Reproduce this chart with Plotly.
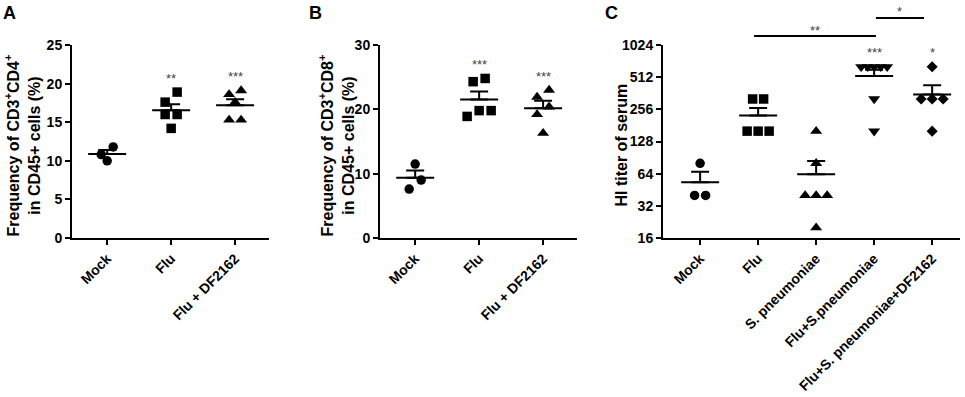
import math
import numpy as np
import plotly.graph_objects as go

W, H = 965, 397

# ---------------- data ----------------
# Panel A: CD3+CD4+ frequency (%)
a_groups = ["Mock", "Flu", "Flu + DF2162"]
a_mock = [11.8, 10.0, 10.8]
a_flu = [18.9, 17.6, 16.0, 16.0, 14.2]
a_df = [19.1, 18.6, 17.6, 15.3, 15.3]
a_stars = ["", "**", "***"]
a_ticks = [0, 5, 10, 15, 20, 25]

# Panel B: CD3+CD8+ frequency (%)
b_groups = ["Mock", "Flu", "Flu + DF2162"]
b_mock = [11.5, 9.0, 7.6]
b_flu = [24.8, 24.3, 19.8, 18.9, 19.8]
b_df = [23.0, 21.9, 20.4, 19.2, 16.3]
b_stars = ["", "***", "***"]
b_ticks = [0, 10, 20, 30]

# Panel C: HI titer of serum
c_groups = ["Mock", "Flu", "S. pneumoniae", "Flu+S.pneumoniae", "Flu+S. pneumoniae+DF2162"]
c_mock = [80, 40, 40]
c_flu = [320, 320, 160, 160, 160]
c_spn = [160, 80, 40, 40, 40, 20]
c_flu_spn = [640, 640, 640, 640, 640, 320, 160]
c_flu_spn_df = [640, 320, 320, 320, 160]
c_stars = ["", "", "", "***", "*"]
c_ticks = [16, 32, 64, 128, 256, 512, 1024]
c_comparisons = [(1, 3, "**"), (3, 4, "*")]

# ---------------- styling / geometry ----------------
FONT = "Liberation Sans"
BLACK = "#000000"
STAR = "#444444"

panels = [
    dict(key="A", groups=a_groups, data=[a_mock, a_flu, a_df], stars=a_stars, ticks=a_ticks,
         symbols=["circle", "square", "triangle-up"], px=(72, 269), py=(45, 238),
         xr=[-0.55, 2.53], yr=[0, 25], log=False,
         title="Frequency of CD3<sup>+</sup>CD4<sup>+</sup><br>in CD45+ cells (%)", title_x=23,
         letter_x=9),
    dict(key="B", groups=b_groups, data=[b_mock, b_flu, b_df], stars=b_stars, ticks=b_ticks,
         symbols=["circle", "square", "triangle-up"], px=(380, 577), py=(45, 238),
         xr=[-0.55, 2.53], yr=[0, 30], log=False,
         title="Frequency of CD3<sup>+</sup>CD8<sup>+</sup><br>in CD45+ cells (%)", title_x=337,
         letter_x=315),
    dict(key="C", groups=c_groups, data=[c_mock, c_flu, c_spn, c_flu_spn, c_flu_spn_df],
         stars=c_stars, ticks=c_ticks,
         symbols=["circle", "square", "triangle-up", "triangle-down", "diamond"],
         px=(663, 960), py=(45, 238), xr=[-0.64, 4.48], yr=[16, 1024], log=True,
         title="HI titer of serum", title_x=621, letter_x=611),
]

fig = go.Figure()


def swarm(vals, ypix, spacing, maxw, thresh):
    """Return horizontal pixel offsets for a simple row-based beeswarm."""
    n = len(vals)
    order = sorted(range(n), key=lambda i: -vals[i])
    rows = []
    for i in order:
        if rows and abs(ypix(vals[i]) - ypix(vals[rows[-1][0]])) < thresh:
            rows[-1].append(i)
        else:
            rows.append([i])
    offs = [0.0] * n
    for row in rows:
        k = len(row)
        if k == 1:
            continue
        sp = min(spacing, maxw / (k - 1))
        row_sorted = sorted(row, key=lambda i: vals[i])
        for j, i in enumerate(row_sorted):
            offs[i] = (j - (k - 1) / 2) * sp
    return offs


annotations = []
shapes = []

for pi, p in enumerate(panels):
    n = pi + 1
    xa = "x" if n == 1 else f"x{n}"
    ya = "y" if n == 1 else f"y{n}"
    x0p, x1p = p["px"]
    y0p, y1p = p["py"]
    xr, yr = p["xr"], p["yr"]
    ppc = (x1p - x0p) / (xr[1] - xr[0])  # px per category unit

    if p["log"]:
        lo, hi = math.log10(yr[0]), math.log10(yr[1])
        ypix = lambda v, lo=lo, hi=hi: (y1p - y0p) * (math.log10(v) - lo) / (hi - lo)
    else:
        ypix = lambda v, yr=yr: (y1p - y0p) * (v - yr[0]) / (yr[1] - yr[0])

    spacing = 12 if not p["log"] else 11
    for gi, vals in enumerate(p["data"]):
        offs = swarm(vals, ypix, spacing, 26, 11)
        xs = [gi + o / ppc for o in offs]
        sym = p["symbols"][gi]
        size = 9.5 + (1 if "triangle" in sym else 0) - (1 if sym == "diamond" else 0)
        fig.add_trace(go.Scatter(
            x=xs, y=vals, mode="markers", xaxis=xa, yaxis=ya, showlegend=False,
            marker=dict(symbol=sym, size=size, color=BLACK, line=dict(width=0)),
            cliponaxis=False, hoverinfo="skip"))
        mean = float(np.mean(vals))
        sem = float(np.std(vals, ddof=1) / np.sqrt(len(vals)))
        hw = 19 / ppc
        fig.add_trace(go.Scatter(
            x=[gi - hw, gi + hw], y=[mean, mean], mode="lines", xaxis=xa, yaxis=ya,
            line=dict(color=BLACK, width=2), showlegend=False, hoverinfo="skip"))
        fig.add_trace(go.Scatter(
            x=[gi], y=[mean], mode="markers", xaxis=xa, yaxis=ya, showlegend=False,
            marker=dict(size=1, opacity=0), hoverinfo="skip",
            error_y=dict(type="data", symmetric=False, array=[sem], arrayminus=[0],
                         width=9, thickness=2, color=BLACK)))
        star = p["stars"][gi]
        if star:
            ymax = max(vals)
            annotations.append(dict(
                x=gi, y=math.log10(ymax) if p["log"] else ymax, xref=xa, yref=ya,
                text=star, showarrow=False, yshift=14,
                font=dict(family=FONT, size=13, color=STAR)))

    # axes
    xdom = [x0p / W, x1p / W]
    ydom = [1 - y1p / H, 1 - y0p / H]
    axcommon = dict(showline=True, linecolor=BLACK, linewidth=2, ticks="outside",
                    ticklen=5, tickwidth=2, tickcolor=BLACK, showgrid=False,
                    zeroline=False, automargin=False,
                    tickfont=dict(family=FONT, size=14, color=BLACK, weight="bold"))
    xkey = "xaxis" if n == 1 else f"xaxis{n}"
    ykey = "yaxis" if n == 1 else f"yaxis{n}"
    fig.layout[xkey] = dict(domain=xdom, range=xr, anchor=ya, tickmode="array",
                            tickvals=list(range(len(p["groups"]))), ticktext=p["groups"],
                            tickangle=-45, **axcommon)
    if p["log"]:
        fig.layout[ykey] = dict(domain=ydom, type="log",
                                range=[math.log10(yr[0]), math.log10(yr[1])],
                                anchor=xa, tickmode="array", tickvals=p["ticks"],
                                ticktext=[str(t) for t in p["ticks"]], **axcommon)
    else:
        fig.layout[ykey] = dict(domain=ydom, range=yr, anchor=xa, tickmode="array",
                                tickvals=p["ticks"], **axcommon)

    # y-axis title
    annotations.append(dict(
        x=p["title_x"] / W, y=1 - ((y0p + y1p) / 2 + 4) / H, xref="paper", yref="paper",
        text=p["title"], textangle=-90, showarrow=False, xanchor="center", yanchor="middle",
        font=dict(family=FONT, size=16, color=BLACK, weight="bold")))
    # panel letter
    annotations.append(dict(
        x=p["letter_x"] / W, y=1 - 13 / H, xref="paper", yref="paper", text=p["key"],
        showarrow=False, xanchor="center", yanchor="middle",
        font=dict(family=FONT, size=18, color=BLACK, weight="bold")))

# significance brackets in panel C
line_levels = [36, 18]
line_adj = [(-0.07, 0.03), (0.03, -0.14)]
for (ga, gb, lab), ly, (da, db) in zip(c_comparisons, line_levels, line_adj):
    xa0, xa1 = ga + da, gb + db
    shapes.append(dict(type="line", xref="x3", yref="paper", x0=xa0, x1=xa1,
                       y0=1 - ly / H, y1=1 - ly / H, line=dict(color=BLACK, width=2)))
    annotations.append(dict(x=(xa0 + xa1) / 2, y=1 - (ly - 6) / H, xref="x3", yref="paper",
                            text=lab, showarrow=False, yanchor="middle",
                            font=dict(family=FONT, size=13, color=STAR)))

fig.update_layout(
    template="none",
    width=W, height=H, margin=dict(l=0, r=0, t=0, b=0, pad=0),
    paper_bgcolor="white", plot_bgcolor="white",
    annotations=annotations, shapes=shapes, showlegend=False,
    font=dict(family=FONT, color=BLACK),
)

fig.write_html("out.html", config={"displayModeBar": False, "staticPlot": True},
               post_script="document.body.style.margin='0';document.body.style.overflow='hidden';")
